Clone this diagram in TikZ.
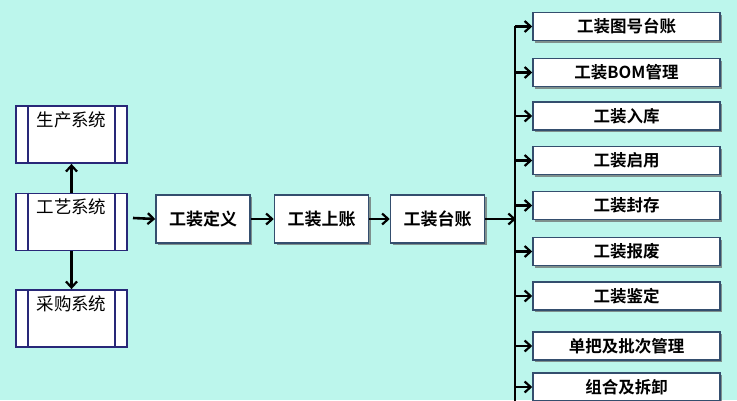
\documentclass[tikz,border=0pt]{standalone}
\usepackage{fontspec}
\newfontfamily\cjk{Noto Sans CJK SC}
\newfontfamily\cjkb{Noto Sans CJK SC Bold}
\usetikzlibrary{shadows,arrows.meta}
\definecolor{bgc}{RGB}{188,246,236}
\definecolor{boxline}{RGB}{52,78,110}
\definecolor{sysline}{RGB}{40,40,120}
\begin{document}
\begin{tikzpicture}[x=1pt,y=-1pt,
  sysbox/.style={draw=sysline,line width=1.8pt,fill=white,minimum width=111pt,minimum height=57pt,inner sep=0pt},
  procbox/.style={draw=boxline,line width=1.5pt,fill=white,inner sep=0pt,
    drop shadow={shadow xshift=2pt,shadow yshift=-2pt,fill=gray!80!black,opacity=0.7},
    font=\cjkb\fontsize{17}{19}\selectfont},
  itembox/.style={procbox,minimum width=187pt,minimum height=28pt,font=\cjkb\fontsize{16.5}{18}\selectfont},
  midbox/.style={procbox,minimum width=94pt,minimum height=48pt},
  arr/.style={line width=2.6pt,-{Straight Barb[length=6pt,width=11pt,line width=2.2pt]}},
  systext/.style={font=\cjk\fontsize{17.5}{19}\selectfont}]
\fill[bgc] (0,0) rectangle (737,400);
\useasboundingbox (0,0) rectangle (737,400);
\begin{scope}
\clip (0,0) rectangle (737,400);
% left system boxes
\foreach \n/\y/\t in {sc/134.5/生产系统, gy/222/工艺系统, cg/318.5/采购系统}{
  \node[sysbox] (\n) at (71.5,\y) {};
  \draw[sysline,line width=1.6pt] ([xshift=13pt]\n.north west) -- ([xshift=13pt]\n.south west);
  \draw[sysline,line width=1.6pt] ([xshift=-13pt]\n.north east) -- ([xshift=-13pt]\n.south east);
  \node[systext] at (71.5,\y-15) {\t};
}
\draw[arr] (gy.north) -- (sc.south);
\draw[arr] (gy.south) -- (cg.north);
% middle chain
\node[midbox] (dy) at (203,219) {工装定义};
\node[midbox] (sz) at (321.5,219) {工装上账};
\node[midbox] (tz) at (437.5,219) {工装台账};
\coordinate (gyr) at (133,218);
\draw[arr] (gyr) -- (dy.west);
\draw[arr] (dy.east) -- (sz.west);
\draw[arr] (sz.east) -- (tz.west);
\coordinate (bus) at (516,219);
\draw[arr] (tz.east) -- (bus);
\coordinate (bustop) at (515,26);
\coordinate (busbot) at (515,405);
\draw[line width=2.6pt] (bustop) -- (busbot);
% right items
\foreach \n/\y/\t in {a/26.5/工装图号台账, b/72.5/工装BOM管理, c/116/工装入库, d/160.5/工装启用, e/205.5/工装封存, f/251.5/工装报废, g/296/工装鉴定, h/346/单把及批次管理, i/387/组合及拆卸}{
  \node[itembox] (\n) at (626.5,\y) {\t};
  \coordinate (\n b) at (515,\y);
  \draw[arr] (\n b) -- (\n.west);
}
\end{scope}
\end{tikzpicture}
\end{document}
